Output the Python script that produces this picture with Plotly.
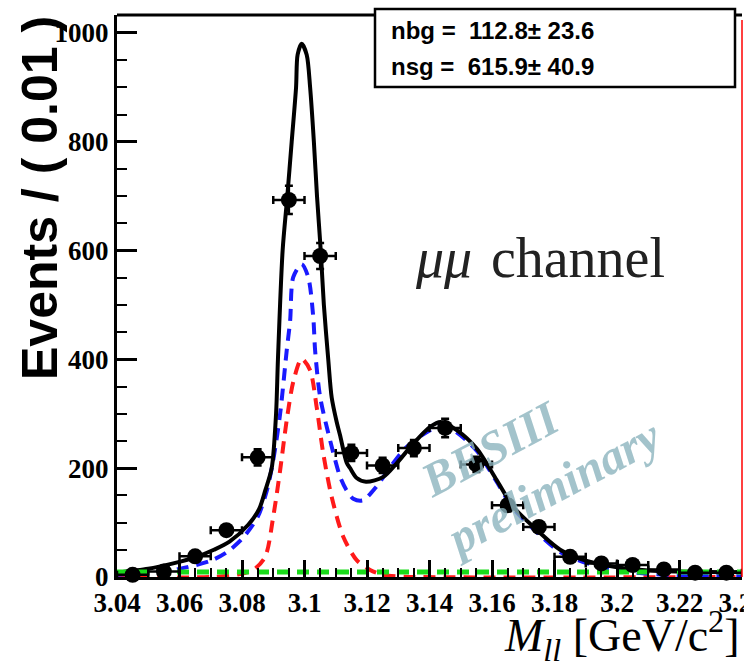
import plotly.graph_objects as go

# ---- data ----
bin_centers = [3.045, 3.055, 3.065, 3.075, 3.085, 3.095, 3.105, 3.115, 3.125, 3.135,
               3.145, 3.155, 3.165, 3.175, 3.185, 3.195, 3.205, 3.215, 3.225, 3.235]
events = [4, 10, 38, 86, 220, 693, 590, 228, 205, 237,
          274, 207, 132, 92, 37, 25, 22, 14, 8, 8]
events_err = [2, 3, 6, 9, 15, 26, 24, 15, 14, 15, 17, 14, 11, 10, 6, 5, 5, 4, 3, 3]
bin_half = 0.005

total_x = [3.040, 3.050, 3.058, 3.065, 3.071, 3.076, 3.082, 3.0855, 3.0875, 3.0895,
           3.0909, 3.0915, 3.093, 3.0945, 3.0959, 3.0973, 3.0978, 3.0991, 3.1007, 3.1018,
           3.103, 3.104, 3.1052, 3.1062, 3.1076, 3.1087, 3.1103, 3.1114, 3.1135, 3.1146,
           3.1167, 3.1197, 3.1252, 3.1295, 3.1348, 3.1402, 3.1435, 3.1487, 3.1551, 3.1615,
           3.1668, 3.1733, 3.1818, 3.190, 3.200, 3.210, 3.220, 3.230, 3.240]
total_y = [8, 15, 25, 36, 50, 65, 96, 125, 160, 200,
           300, 400, 600, 700, 800, 900, 960, 980, 960, 900,
           800, 700, 600, 500, 400, 330, 285, 260, 210, 200,
           182, 175, 184, 209, 245, 276, 285, 270, 236, 178,
           129, 92, 50, 30, 18, 12, 10, 9, 9]

blue_x = [3.040, 3.050, 3.060, 3.070, 3.075, 3.080, 3.085, 3.088, 3.090, 3.0922,
          3.0943, 3.0954, 3.0964, 3.0991, 3.1012, 3.1028, 3.1034, 3.105, 3.1082, 3.1114,
          3.1134, 3.1156, 3.1187, 3.123, 3.1274, 3.1327, 3.1402, 3.1445, 3.1487, 3.1551,
          3.1615, 3.1668, 3.1733, 3.1818, 3.190, 3.200, 3.210, 3.220, 3.230, 3.240]
blue_y = [4, 8, 15, 30, 45, 70, 110, 160, 215, 300,
          416, 471, 551, 575, 551, 478, 416, 331, 251, 184,
          160, 144, 141, 166, 202, 239, 270, 279, 266, 232,
          175, 126, 88, 46, 26, 12, 6, 3, 2, 1]

red_x = [3.040, 3.070, 3.079, 3.0836, 3.0874, 3.090, 3.0922, 3.0943, 3.0965, 3.0991,
         3.1018, 3.1039, 3.106, 3.1087, 3.1124, 3.1167, 3.121, 3.125, 3.130, 3.240]
red_y = [0, 0, 5, 13, 37, 111, 196, 288, 361, 401,
         380, 312, 227, 147, 74, 31, 13, 4, 1, 0]

bkg_x = [3.040, 3.240]
bkg_y = [9, 9]

x_ticks = [3.04, 3.06, 3.08, 3.10, 3.12, 3.14, 3.16, 3.18, 3.20, 3.22, 3.24]
x_ticktext = ["3.04", "3.06", "3.08", "3.1", "3.12", "3.14", "3.16", "3.18", "3.2", "3.22", "3.24"]
x_minor_step = 0.005
y_ticks = [0, 200, 400, 600, 800, 1000]
y_minor_step = 50

nbg_text = "nbg =  112.8\u00b1 23.6"
nsg_text = "nsg =  615.9\u00b1 40.9"

# ---- figure ----
fig = go.Figure()
dash = "12px,8px"
fig.add_trace(go.Scatter(x=red_x, y=red_y, mode="lines", line=dict(color="#ff1a1a", width=4, dash=dash, shape="spline", smoothing=0.8)))
fig.add_trace(go.Scatter(x=blue_x, y=blue_y, mode="lines", line=dict(color="#1a1aff", width=4, dash=dash, shape="spline", smoothing=0.8)))
fig.add_trace(go.Scatter(x=total_x, y=total_y, mode="lines", line=dict(color="black", width=4, shape="spline", smoothing=0.8)))
fig.add_trace(go.Scatter(x=bkg_x, y=bkg_y, mode="lines", line=dict(color="#1adb1a", width=5, dash=dash)))
fig.add_trace(go.Scatter(
    x=bin_centers, y=events, mode="markers", cliponaxis=False,
    marker=dict(color="black", size=16),
    error_y=dict(type="data", array=events_err, color="black", thickness=2.5, width=4),
    error_x=dict(type="constant", value=bin_half, color="black", thickness=2.5, width=4),
))

fig.update_layout(
    width=753, height=665, showlegend=False,
    margin=dict(l=117, r=11, t=15, b=88, autoexpand=False),
    plot_bgcolor="white", paper_bgcolor="white",
    xaxis=dict(range=[3.04, 3.24], tickmode="array", tickvals=x_ticks, ticktext=x_ticktext,
               ticklabeloverflow="allow", automargin=False,
               showline=True, linecolor="black", linewidth=3, showgrid=False, zeroline=False,
               ticks="inside", ticklen=17, tickwidth=3, tickcolor="black",
               minor=dict(tickmode="linear", tick0=x_ticks[0], dtick=x_minor_step, ticks="inside",
                          ticklen=9, tickwidth=2, tickcolor="black", showgrid=False),
               tickfont=dict(family="Liberation Serif", size=27, color="black", weight="bold")),
    yaxis=dict(range=[0, 1033], tickmode="array", tickvals=y_ticks, automargin=False,
               showline=True, linecolor="black", linewidth=3, showgrid=False, zeroline=False,
               ticks="inside", ticklen=20, tickwidth=3, tickcolor="black",
               minor=dict(tickmode="linear", tick0=0, dtick=y_minor_step, ticks="inside",
                          ticklen=10, tickwidth=2, tickcolor="black", showgrid=False),
               tickfont=dict(family="Liberation Serif", size=27, color="black", weight="bold")),
)

shapes = [
    # top frame line
    dict(type="line", xref="paper", yref="paper", x0=0, x1=1, y0=1, y1=1, line=dict(color="black", width=3)),
    # crop to the right of the frame
    dict(type="rect", xref="paper", yref="paper", x0=1.003, x1=1.06, y0=-0.25, y1=-0.002,
         fillcolor="white", line=dict(width=0), layer="above"),
    # right red border
    dict(type="line", xref="paper", yref="paper", x0=1, x1=1, y0=0, y1=0.991, line=dict(color="red", width=1.5), layer="above"),
    # stat box
    dict(type="rect", xref="paper", yref="paper", x0=0.4128, x1=0.9888, y0=0.8719, y1=1.0107,
         fillcolor="white", line=dict(color="black", width=2.5), layer="above"),
]
fig.update_layout(shapes=shapes)

ann = [
    dict(text=nbg_text, x=0.4344, y=0.9733, xanchor="left", yanchor="middle",
         font=dict(family="Liberation Sans", size=24, color="black", weight="bold")),
    dict(text=nsg_text, x=0.4344, y=0.9075, xanchor="left", yanchor="middle",
         font=dict(family="Liberation Sans", size=24, color="black", weight="bold")),
    dict(text="<i>\u03bc\u03bc</i> \u200achannel", x=0.4736, y=0.5676, xanchor="left", yanchor="middle",
         font=dict(family="Liberation Serif", size=56, color="#222222")),
    dict(text="BESIII", x=0.5968, y=0.2295, xanchor="center", yanchor="middle", textangle=-28,
         font=dict(family="Liberation Serif", size=48, color="rgba(140,180,190,0.8)", weight="bold", style="italic")),
    dict(text="preliminary", x=0.696, y=0.160, xanchor="center", yanchor="middle", textangle=-28,
         font=dict(family="Liberation Serif", size=48, color="rgba(140,180,190,0.8)", weight="bold", style="italic")),
    dict(text="<i>M</i><sub><i>ll</i></sub> [GeV/c<sup>2</sup>]", x=1.0, y=-0.165, xanchor="right", yanchor="bottom",
         font=dict(family="Liberation Serif", size=46, color="black")),
    dict(text="Events / ( 0.01 )", x=-0.1232, y=0.6744, xanchor="center", yanchor="middle", textangle=-90,
         font=dict(family="Liberation Sans", size=50, color="black", weight="bold")),
]
for a in ann:
    a.update(xref="paper", yref="paper", showarrow=False)
fig.update_layout(annotations=ann)

fig.write_html("out.html")
